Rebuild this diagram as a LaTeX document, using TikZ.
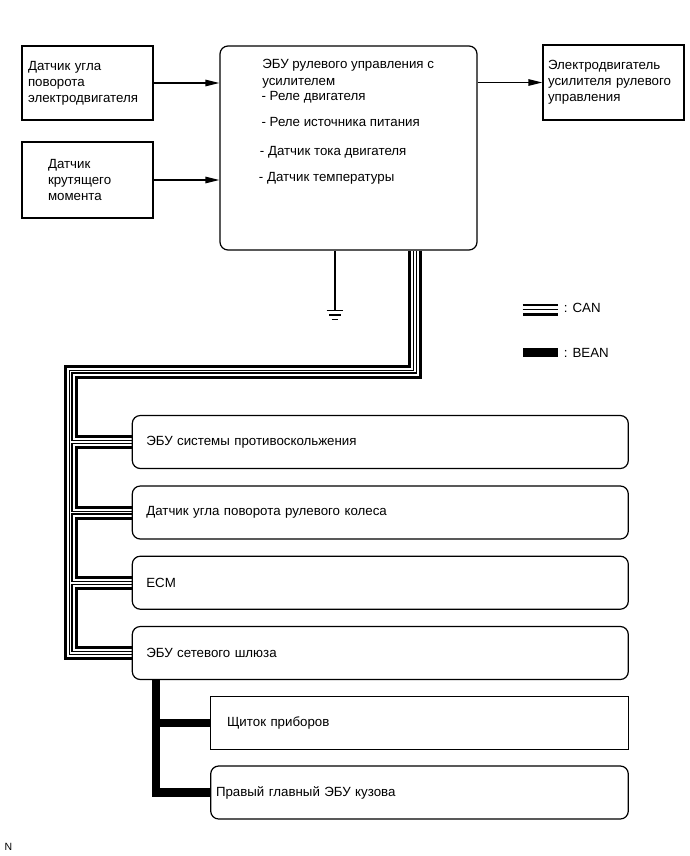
\documentclass[tikz,border=0pt]{standalone}
\usepackage{fontspec}
\setmainfont{Liberation Sans}
\usetikzlibrary{arrows.meta,positioning,backgrounds}

\begin{document}
\begin{tikzpicture}[x=1pt,y=-1pt,font=\fontsize{13.3pt}{16pt}\selectfont,line width=1.2pt,
  blk/.style={draw,align=left,inner ysep=0pt},
  rblk/.style={blk,rounded corners=8pt},
  txt/.style={anchor=west,inner sep=0pt,text height=9pt,text depth=0pt},
  arr/.style={-{Triangle[length=14pt,width=6.5pt]}}]
\useasboundingbox (0,0) rectangle (690,856);
\node[blk,minimum width=131pt,minimum height=74pt,text width=119pt,inner xsep=6pt] (sensa) at (87.5,83) {Датчик угла\\поворота\\электродвигателя};
\node[blk,minimum width=131pt,minimum height=76pt,text width=79pt,inner xsep=26pt] (sensb) at (87.5,180) {Датчик\\крутящего\\момента};
\node[rblk,minimum width=257pt,minimum height=204pt] (ecu) at (348.5,148) {};
\foreach \i/\x/\y/\lab in {1/261.7/64.3/{ЭБУ рулевого управления с},2/261.7/80.7/{усилителем},3/261/96/{- Реле двигателя},4/261/122.3/{- Реле источника питания},5/259.3/150.7/{- Датчик тока двигателя},6/258.3/177.3/{- Датчик температуры}}
  \node[txt] (ecu\i) at (\x,\y) {\lab};
\node[blk,minimum width=141pt,minimum height=75pt,text width=131pt,inner xsep=5pt] (motor) at (613.5,82.5) {Электродвигатель\\усилителя рулевого\\управления};
\draw[arr] (sensa.east) -- (sensa.east -| ecu.west);
\draw[arr] (sensb.east) -- (sensb.east -| ecu.west);
\draw[arr] (ecu.east |- motor.west) -- (motor.west);

\coordinate (gnd) at (335,310.7);
\draw (ecu.south -| gnd) -- (gnd);
\draw[line width=1.4pt] (gnd) ++(-8.3,0) -- ++(16.6,0) (gnd) ++(-5.8,4.3) -- ++(11.6,0) (gnd) ++(-3.3,8.6) -- ++(6.6,0);

\foreach \i/\y/\lab in {1/442/{ЭБУ системы противоскольжения},2/512.5/{Датчик угла поворота рулевого колеса},3/582.7/{ECM},4/653/{ЭБУ сетевого шлюза}}
  \node[rblk,minimum width=496pt,minimum height=53pt,text width=468pt,inner xsep=14pt] (unit\i) at (380.3,\y) {\lab};
\node[blk,minimum width=417.6pt,minimum height=52.6pt,text width=385pt,inner xsep=16pt] (meter) at (419.5,723) {Щиток приборов};
\node[rblk,minimum width=417.6pt,minimum height=53pt,text width=407pt,inner xsep=5.3pt] (body) at (419.5,792.5) {Правый главный ЭБУ кузова};

\coordinate (canx) at (415,371.5);
\coordinate (canl) at (70.5,371.5);
\coordinate (beanx) at (156,0);
\begin{scope}[on background layer,line join=miter]
\foreach \w/\c in {14/black,8/white,4/black,1.6/white}
  \draw[line width=\w pt,draw=\c] (ecu.south -| canx) -- (canx) -- (canl) -- (canl |- unit4.west) -- (unit4.west)
    \foreach \i in {1,2,3} {(canl |- unit\i.west) -- (unit\i.west)};
\draw[line width=8.3pt] (unit4.south -| beanx) -- (beanx |- body.west) -- (body.west) (beanx |- meter.west) -- (meter.west);
\end{scope}

\coordinate (canleg) at (522.7,309.7);
\foreach \w/\c in {12.3/black,7/white,1.3/black}
  \draw[line width=\w pt,draw=\c] (canleg) -- ++(35,0);
\node[txt] (canlab) at (563.3,308.3) {: CAN};
\node[fill=black,inner sep=0pt,minimum width=35pt,minimum height=9pt] (beanleg) at (540.2,352.8) {};
\node[txt] (beanlab) at (563.3,353) {: BEAN};
\node[anchor=west,inner sep=0pt,font=\fontsize{10.5pt}{12pt}\selectfont] (mark) at (4,846.7) {N};
\end{tikzpicture}
\end{document}
